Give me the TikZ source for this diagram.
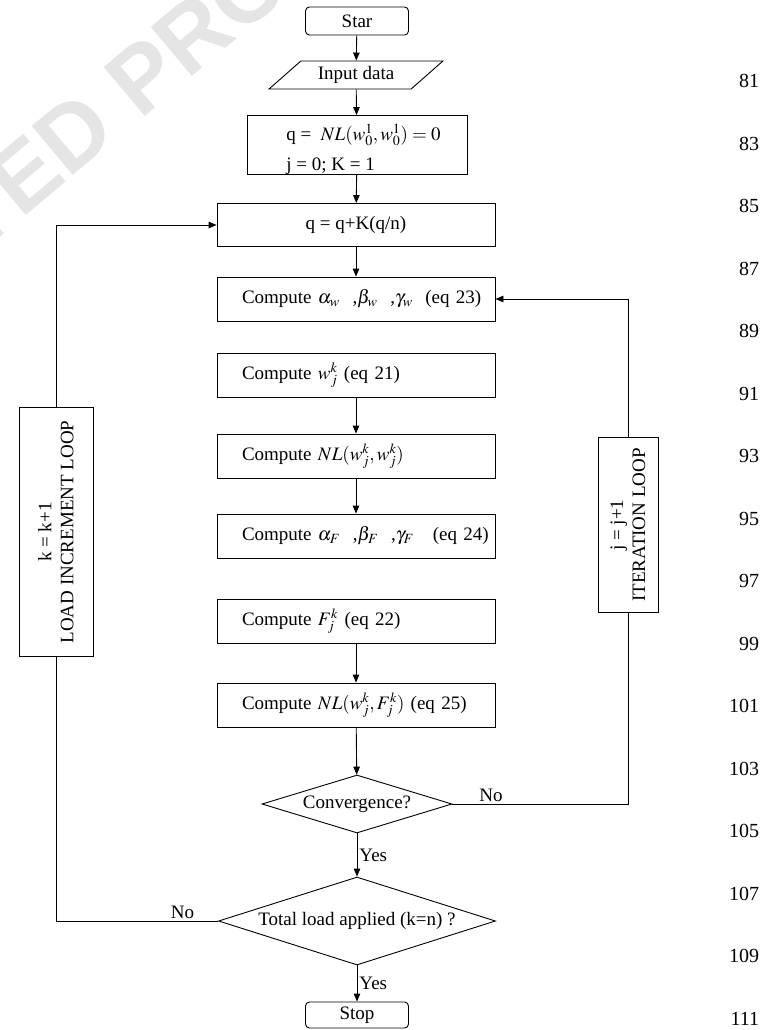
\documentclass[tikz,border=0pt]{standalone}
\usepackage{mathptmx}
\usepackage{fontspec}
\setmainfont{Liberation Serif}
\newfontfamily\wmfont{Liberation Sans}
\usetikzlibrary{shapes.geometric,arrows.meta,positioning}

\begin{document}
\begin{tikzpicture}[x=1pt,y=-1pt,line width=.9pt,
  every node/.style={font=\fontsize{19}{22}\selectfont},
  box/.style={draw,minimum width=278,minimum height=44,inner sep=0pt},
  cbox/.style={box,align=left,text width=228,inner xsep=25pt,
    execute at begin node=\mbox\bgroup,execute at end node=\egroup},
  term/.style={draw,rounded corners=4pt,minimum width=103,minimum height=28,inner sep=0pt},
  dec/.style={draw,diamond,inner sep=0pt},
  loopbox/.style={draw,rotate=90,align=center,inner sep=0pt},
  arr/.style={-{Triangle[length=8pt,width=6.5pt]}},
  lnum/.style={anchor=east,font=\fontsize{20}{22}\selectfont}]

	\useasboundingbox (0,0) rectangle (772,1030);

	% watermark
	\begin{scope}
	    \clip (0,0) rectangle (772,1030);
	    \node[anchor=base west,rotate=40,text=black!10,inner sep=0pt,
	      font=\wmfont\bfseries\fontsize{93}{93}\selectfont] (wm) at (-434,602) {UNCORRECTED PROOF};
	\end{scope}

	\node[term] (star) at (357,21) {Star};
	\node[draw,trapezium,trapezium left angle=38,trapezium right angle=142,
	  trapezium stretches=true,minimum width=174,minimum height=28,inner sep=0pt] (input) at (356,75) {Input data};

	\node[draw,minimum width=220,minimum height=59,inner sep=0pt] (init) at (357,145) {};
	\node[anchor=base west,inner sep=0pt] (initq) at (286,140) {q = \ $NL(w_0^1,w_0^1) = 0$};
	\node[anchor=base west,inner sep=0pt] (initj) at (286,170) {j = 0; K = 1};

	\node[box,minimum height=43] (load) at (356,225) {q = q+K(q/n)};

	\node[cbox] (aw) at (356,299) {Compute $\alpha_w$\ \ ,$\beta_w$\ \ ,$\gamma_w$\ \ (eq 23)};
	\node[cbox] (wk) at (356,375) {Compute\ $w_j^k$\ (eq 21)};
	\node[cbox] (nlw) at (356,456) {Compute\ $NL(w_j^k,w_j^k)$};
	\node[cbox] (af) at (356,536) {Compute\ $\alpha_F$\ \ ,$\beta_F$\ \ ,$\gamma_F$\ \ \ (eq 24)};
	\node[cbox] (fk) at (356,621) {Compute\ $F_j^k$\ (eq 22)};
	\node[cbox] (nlf) at (356,705) {Compute\ $NL(w_j^k,F_j^k)$\ (eq 25)};

	\node[dec,aspect=3.3,minimum width=190,minimum height=58] (conv) at (357,804) {Convergence?};
	\node[dec,aspect=3.15,minimum width=277,minimum height=88] (total) at (357,921) {Total load applied (k=n) ?};
	\node[term,minimum height=26] (stop) at (357,1015) {Stop};

	\node[loopbox,minimum width=249,minimum height=74] (inc) at (56,532) {k = k+1\\LOAD INCREMENT LOOP};
	\node[loopbox,minimum width=175,minimum height=60] (iter) at (628,525) {j = j+1\\ITERATION LOOP};

	\draw[arr] (star) -- (input);
	\draw[arr] (input) -- (init);
	\draw[arr] (init) -- (load);
	\draw[arr] (load) -- (aw);
	\draw[arr] (wk) -- (nlw);
	\draw[arr] (nlw) -- (af);
	\draw[arr] (fk) -- (nlf);
	\draw[arr] (nlf) -- (conv);
	\draw[arr] (conv) -- node[right,inner sep=2pt] {Yes} (total);
	\draw[arr] (total) -- node[right,inner sep=2pt] {Yes} (stop);

	% iteration loop
	\draw (conv.east) -| node[pos=.11,above,inner sep=2pt] {No} (iter.west);
	\draw[arr] (iter.east) |- (aw.east);

	% load increment loop
	\draw (total.west) -| node[pos=.11,above,inner sep=2pt] {No} (inc.west);
	\draw[arr] (inc.east) |- (load.west);

	% line numbers
	\foreach \n [count=\i from 0] in {81,83,...,111}
	    \node[lnum] (ln\n) at (763,81+62.5*\i) {\n};

\end{tikzpicture}
\end{document}
